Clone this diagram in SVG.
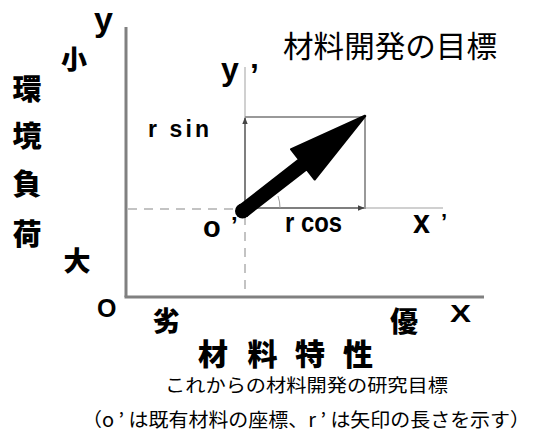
<svg xmlns="http://www.w3.org/2000/svg" width="537" height="439" viewBox="0 0 537 439">
<defs>
<marker id="sm" viewBox="0 0 10 10" refX="9" refY="5" markerWidth="7" markerHeight="7" markerUnits="userSpaceOnUse" orient="auto">
<path d="M0,1 L10,5 L0,9 z" fill="#444"/>
</marker>
</defs>
<style>
.ax{stroke:#808080;stroke-width:3;fill:none}
.dash{stroke:#b0b0b0;stroke-width:1.5;stroke-dasharray:9 7;fill:none}
.lt{stroke:#c0c0c0;stroke-width:1.5;fill:none}
.rc{stroke:#999;stroke-width:2;fill:none}
.vec{stroke:#555;stroke-width:1.5;fill:none}
.lb{font-family:"Liberation Sans",Arial,sans-serif;font-weight:bold;fill:#000}
.jb{font-family:"Noto Sans CJK JP","Noto Sans CJK SC",sans-serif;font-weight:900;fill:#000}
.jr{font-family:"Noto Sans CJK JP","Noto Sans CJK SC",sans-serif;font-weight:normal;fill:#000}
</style>
<rect width="537" height="439" fill="#fff"/>
<g id="connectors">
<line class="ax" x1="126" y1="27" x2="126" y2="297"/>
<line class="ax" x1="124.5" y1="297" x2="484" y2="297"/>
<line class="dash" x1="128" y1="209" x2="240" y2="209"/>
<line class="dash" x1="245" y1="216" x2="245" y2="296"/>
<line class="lt" x1="245" y1="67" x2="245" y2="118"/>
<line class="lt" x1="365" y1="208" x2="443" y2="208"/>
<line class="rc" x1="245" y1="117" x2="366" y2="117"/>
<line class="rc" x1="365" y1="117" x2="365" y2="209"/>
<line class="vec" x1="245" y1="209" x2="245" y2="118" marker-end="url(#sm)"/>
<line class="vec" x1="245" y1="208" x2="364" y2="208" marker-end="url(#sm)"/>
<path d="M280,208 A35,35 0 0 0 278,196" stroke="#999" stroke-width="1" fill="none"/>
<path id="bigArrow" d="M239.3,206.3 L299.3,159.6 L291.3,149.3 L365,116 L314.7,179.3 L306.7,169 L246.7,215.7 Z" fill="#000" stroke="#000" stroke-width="2.5" stroke-linejoin="round"/>
<circle cx="242.5" cy="211" r="7.5" fill="#000"/>
</g>
<g id="axis-labels">
<text class="lb" x="94" y="31" font-size="34">y</text>
<text class="lb" x="221" y="80" font-size="32">y</text>
<text class="lb" x="250" y="86" font-size="32">’</text>
<text class="lb" x="413" y="233" font-size="34" textLength="17" lengthAdjust="spacingAndGlyphs">x</text>
<text class="lb" x="441" y="229" font-size="22">’</text>
<text class="lb" x="97" y="317" font-size="25">O</text>
<text class="lb" x="450" y="322" font-size="24" textLength="21" lengthAdjust="spacingAndGlyphs">X</text>
<text class="lb" x="203" y="237" font-size="29">o</text>
<text class="lb" x="231" y="234" font-size="24">’</text>
<text class="lb" x="148" y="137" font-size="23" textLength="61" lengthAdjust="spacing">r sin</text>
<text class="lb" x="285" y="232" font-size="28" textLength="57" lengthAdjust="spacingAndGlyphs">r cos</text>
</g>
<g id="env-load-label">
<text class="jb" x="27" y="100" font-size="29" text-anchor="middle">環</text>
<text class="jb" x="27" y="147" font-size="29" text-anchor="middle">境</text>
<text class="jb" x="27" y="195" font-size="29" text-anchor="middle">負</text>
<text class="jb" x="27" y="245" font-size="29" text-anchor="middle">荷</text>
<text class="jb" x="74" y="69" font-size="26" text-anchor="middle">小</text>
<text class="jb" x="77" y="271" font-size="27" text-anchor="middle">大</text>
</g>
<g id="material-label">
<text class="jb" x="166" y="331" font-size="27" text-anchor="middle">劣</text>
<text class="jb" x="404" y="332" font-size="28" text-anchor="middle">優</text>
<text class="jb" x="213" y="365" font-size="30" text-anchor="middle">材</text>
<text class="jb" x="262.5" y="365" font-size="30" text-anchor="middle">料</text>
<text class="jb" x="310" y="365" font-size="30" text-anchor="middle">特</text>
<text class="jb" x="358" y="365" font-size="30" text-anchor="middle">性</text>
</g>
<g id="title">
<text class="jr" x="283" y="57" font-size="30" textLength="214" lengthAdjust="spacingAndGlyphs">材料開発の目標</text>
</g>
<g id="captions">
<text class="jr" x="165" y="392" font-size="18" textLength="283" lengthAdjust="spacingAndGlyphs">これからの材料開発の研究目標</text>
<text class="jr" x="82" y="427" font-size="19" textLength="448" lengthAdjust="spacingAndGlyphs">（o ’ は既有材料の座標、r ’ は矢印の長さを示す）</text>
</g>
</svg>
